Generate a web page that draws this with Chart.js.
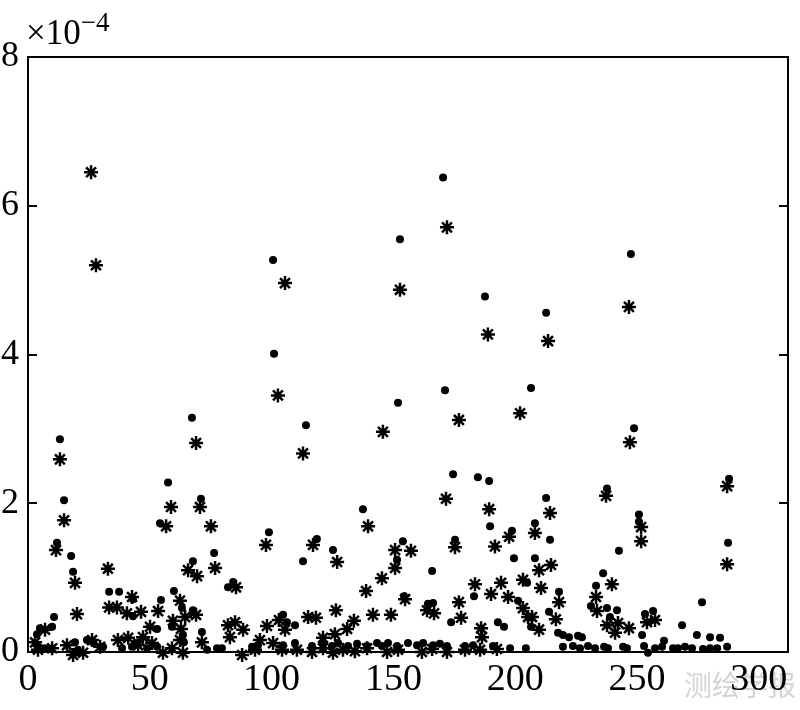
<!DOCTYPE html>
<html><head><meta charset="utf-8">
<script src="https://cdn.jsdelivr.net/npm/chart.js@4"></script>
<style>html,body{margin:0;padding:0;background:#fff}#wrap{width:800px;height:710px;position:relative}</style>
</head><body><div id="wrap"><canvas id="c" width="800" height="710"></canvas></div>
<script>
// ---- data (values in units of 1e-4) ----
const xTicks = [0, 50, 100, 150, 200, 250, 300];
const yTicks = [0, 2, 4, 6, 8];
const exponentBase = '×10';
const exponentPower = '−4';
const watermarkText = '测绘学报';

const dotPoints = [[13.1,2.86],[14.8,2.04],[11.9,1.47],[17.7,1.29],[18.5,1.08],[10.7,0.47],[9.9,0.34],[4.9,0.32],[3.7,0.24],[57.5,2.28],[54.2,1.73],[67.3,3.15],[71.0,2.06],[76.4,1.33],[67.7,1.22],[82.1,0.87],[84.2,0.94],[33.3,0.81],[37.4,0.81],[43.1,0.71],[43.1,0.48],[54.6,0.70],[59.9,0.82],[63.2,0.59],[59.1,0.34],[67.7,0.56],[53.0,0.31],[63.6,0.23],[64.0,0.13],[71.4,0.27],[100.6,5.27],[101.0,4.01],[98.9,1.61],[114.1,3.05],[112.9,1.22],[118.6,1.52],[125.2,1.37],[137.5,1.92],[151.9,3.35],[152.7,5.55],[153.9,1.49],[151.5,1.24],[165.9,1.09],[170.4,6.38],[171.2,3.52],[174.5,2.39],[175.3,1.51],[184.7,2.35],[187.6,4.78],[189.3,2.30],[189.7,1.69],[198.7,1.63],[199.5,1.26],[206.5,3.55],[212.7,4.56],[212.7,2.07],[208.1,1.73],[208.1,1.26],[214.3,1.51],[183.1,0.75],[204.9,0.93],[201.2,0.69],[206.5,0.34],[192.9,0.40],[195.4,0.34],[154.4,0.75],[164.2,0.65],[166.3,0.66],[173.7,0.40],[104.7,0.50],[106.3,0.40],[109.6,0.36],[236.1,1.06],[218.0,0.81],[233.2,0.89],[231.1,0.62],[237.7,0.59],[241.8,0.56],[213.9,0.54],[238.9,0.47],[253.3,0.51],[256.6,0.55],[252.1,0.23],[268.5,0.36],[276.7,0.67],[274.6,0.23],[280.0,0.20],[284.1,0.19],[261.1,0.15],[217.6,0.26],[219.6,0.23],[222.1,0.20],[225.8,0.22],[227.4,0.20],[237.7,2.20],[242.6,1.36],[248.8,3.01],[250.8,1.85],[250.8,1.75],[247.5,5.35],[287.8,2.33],[287.4,1.47],[204.4,0.05],
[4.1,0.07],[7.0,0.05],[19.3,0.13],[20.5,0.03],[24.2,0.16],[26.7,0.13],[30.8,0.07],[38.6,0.05],[42.7,0.07],[43.9,0.12],[48.9,0.05],[53.0,0.07],[73.5,0.03],[77.6,0.05],[79.6,0.05],[92.0,0.07],[94.4,0.09],
[104.7,0.09],[109.6,0.12],[116.6,0.08],[121.1,0.11],[124.8,0.08],[127.3,0.12],[131.4,0.08],[135.1,0.11],[139.2,0.08],[143.3,0.12],[145.3,0.08],[147.8,0.12],[151.5,0.08],[156.0,0.12],[159.7,0.09],[162.2,0.12],[166.3,0.09],[169.1,0.11],[172.0,0.08],[179.4,0.08],[182.7,0.09],[190.9,0.08],[197.9,0.05],
[219.6,0.07],[223.7,0.08],[226.6,0.05],[229.9,0.08],[232.8,0.05],[236.5,0.07],[238.1,0.05],[244.3,0.07],[245.9,0.05],[252.9,0.08],[254.5,-0.01],[257.4,0.05],[260.3,0.07],[264.8,0.05],[266.8,0.05],[269.7,0.07],[272.6,0.05],[277.1,0.04],[280.0,0.05],[282.9,0.05],[287.0,0.07]];

const starPoints = [[25.9,6.45],[27.9,5.20],[13.1,2.59],[14.8,1.77],[11.5,1.37],[19.3,0.93],[20.1,0.51],[58.7,1.95],[56.7,1.69],[69.0,2.81],[70.6,1.95],[75.1,1.69],[76.8,1.13],[65.7,1.10],[69.4,1.02],[85.4,0.87],[32.8,1.12],[33.3,0.60],[36.5,0.60],[40.6,0.52],[42.7,0.74],[46.4,0.54],[53.4,0.55],[62.4,0.69],[64.5,0.47],[59.5,0.42],[69.0,0.50],[82.1,0.36],[85.0,0.40],[88.3,0.30],[82.9,0.20],[98.1,0.35],[103.0,0.43],[7.0,0.30],[2.9,0.13],[50.1,0.34],[47.2,0.20],[62.8,0.31],[62.4,0.16],[71.4,0.13],[59.1,0.05],[63.6,-0.01],[97.7,1.44],[102.6,3.45],[105.5,4.96],[112.9,2.67],[117.0,1.44],[126.9,1.21],[145.7,2.96],[152.7,4.87],[150.7,1.37],[157.2,1.36],[150.7,1.13],[145.3,0.99],[138.8,0.82],[139.6,1.69],[175.3,1.41],[172.0,5.71],[176.9,3.12],[171.6,2.06],[188.8,4.27],[189.3,1.92],[191.7,1.42],[197.5,1.55],[202.0,3.21],[213.5,4.18],[214.3,1.87],[208.1,1.60],[209.8,1.10],[214.7,1.17],[246.7,4.64],[247.1,2.82],[237.3,2.10],[251.7,1.68],[251.7,1.49],[287.0,2.23],[287.0,1.18],[183.5,0.91],[194.2,0.93],[190.1,0.78],[197.1,0.74],[203.2,0.97],[176.9,0.67],[177.8,0.46],[203.2,0.59],[205.3,0.47],[154.8,0.71],[163.8,0.56],[166.7,0.52],[126.4,0.56],[115.0,0.47],[118.2,0.46],[141.6,0.50],[149.0,0.50],[133.8,0.42],[131.0,0.31],[126.0,0.24],[121.1,0.19],[105.5,0.30],[186.0,0.32],[186.4,0.20],[239.7,0.91],[210.6,0.86],[218.0,0.67],[233.2,0.74],[233.6,0.55],[216.7,0.44],[206.9,0.47],[237.7,0.36],[242.2,0.39],[246.7,0.32],[241.0,0.26],[254.1,0.40],[257.4,0.43],[209.8,0.30],
[4.1,0.03],[9.9,0.05],[16.0,0.09],[18.5,-0.04],[22.6,-0.01],[26.3,0.16],[29.6,0.07],[36.9,0.16],[41.1,0.19],[45.2,0.09],[50.9,0.12],[55.4,-0.01],[87.9,-0.04],[93.2,0.03],[95.2,0.16],[100.6,0.12],[104.3,0.03],
[110.4,0.03],[116.6,0.00],[121.1,0.05],[125.2,-0.01],[129.3,0.03],[134.2,0.01],[139.2,0.05],[147.4,0.00],[151.9,0.03],[161.7,0.00],[165.9,0.04],[172.0,0.00],[179.4,0.03],[185.6,0.03],[192.5,0.04]];

// ---- chart ----
const SERIF = "'Liberation Serif', 'Times New Roman', serif";
const toXY = arr => arr.map(p => ({x: p[0], y: p[1]}));

const framePlugin = {
  id: 'frame',
  beforeDraw(chart) {
    const ctx = chart.ctx;
    ctx.save();
    ctx.fillStyle = '#fff';
    ctx.fillRect(0, 0, chart.width, chart.height);
    ctx.fillStyle = '#d4d4d4';
    ctx.font = "28px 'Noto Sans CJK SC', sans-serif";
    ctx.textBaseline = 'middle';
    ctx.textAlign = 'left';
    ctx.fillText(watermarkText, 684, 685);
    ctx.restore();
  },
  beforeDatasetsDraw(chart) {
    const {ctx, chartArea: a, scales} = chart;
    ctx.save();
    ctx.strokeStyle = '#000';
    ctx.lineWidth = 2;
    ctx.strokeRect(a.left, a.top, a.right - a.left, a.bottom - a.top);
    ctx.beginPath();
    yTicks.forEach(v => {
      const py = Math.round(scales.y.getPixelForValue(v));
      ctx.moveTo(a.left, py); ctx.lineTo(a.left + 9, py);
      ctx.moveTo(a.right, py); ctx.lineTo(a.right - 9, py);
    });
    ctx.stroke();
    ctx.restore();
  },
  afterDraw(chart) {
    const ctx = chart.ctx;
    ctx.save();
    ctx.fillStyle = '#000';
    ctx.textBaseline = 'alphabetic';
    ctx.textAlign = 'left';
    ctx.font = '35px ' + SERIF;
    ctx.fillText(exponentBase, 26, 44);
    const w = ctx.measureText(exponentBase).width;
    ctx.font = '27px ' + SERIF;
    ctx.fillText(exponentPower, 26 + w, 31);
    ctx.restore();
  }
};

new Chart(document.getElementById('c'), {
  type: 'scatter',
  data: {
    datasets: [
      { label: 'dots', data: toXY(dotPoints), pointStyle: 'circle', pointRadius: 4,
        pointBackgroundColor: '#000', pointBorderWidth: 0, pointBorderColor: '#000', clip: false },
      { label: 'stars', data: toXY(starPoints), pointStyle: 'star', pointRadius: 7,
        pointBorderColor: '#000', pointBackgroundColor: '#000', pointBorderWidth: 2.5, clip: false }
    ]
  },
  options: {
    responsive: false,
    animation: false,
    layout: { padding: { left: 0, top: 57, right: 12, bottom: 0 } },
    plugins: { legend: { display: false }, tooltip: { enabled: false } },
    scales: {
      x: {
        type: 'linear', min: 0, max: 312,
        afterBuildTicks: s => { s.ticks = xTicks.map(v => ({ value: v })); },
        afterFit: s => { s.height = 58; },
        ticks: { font: { family: SERIF, size: 38 }, color: '#000', padding: 5, maxRotation: 0, autoSkip: false, includeBounds: false },
        grid: { display: false, drawTicks: false },
        border: { display: false }
      },
      y: {
        type: 'linear', min: 0, max: 8,
        afterBuildTicks: s => { s.ticks = yTicks.map(v => ({ value: v })); },
        afterFit: s => { s.width = 28; },
        ticks: { font: { family: SERIF, size: 36 }, color: '#000', padding: 9, autoSkip: false, includeBounds: false },
        grid: { display: false, drawTicks: false },
        border: { display: false }
      }
    }
  },
  plugins: [framePlugin]
});
</script>
</body></html>
